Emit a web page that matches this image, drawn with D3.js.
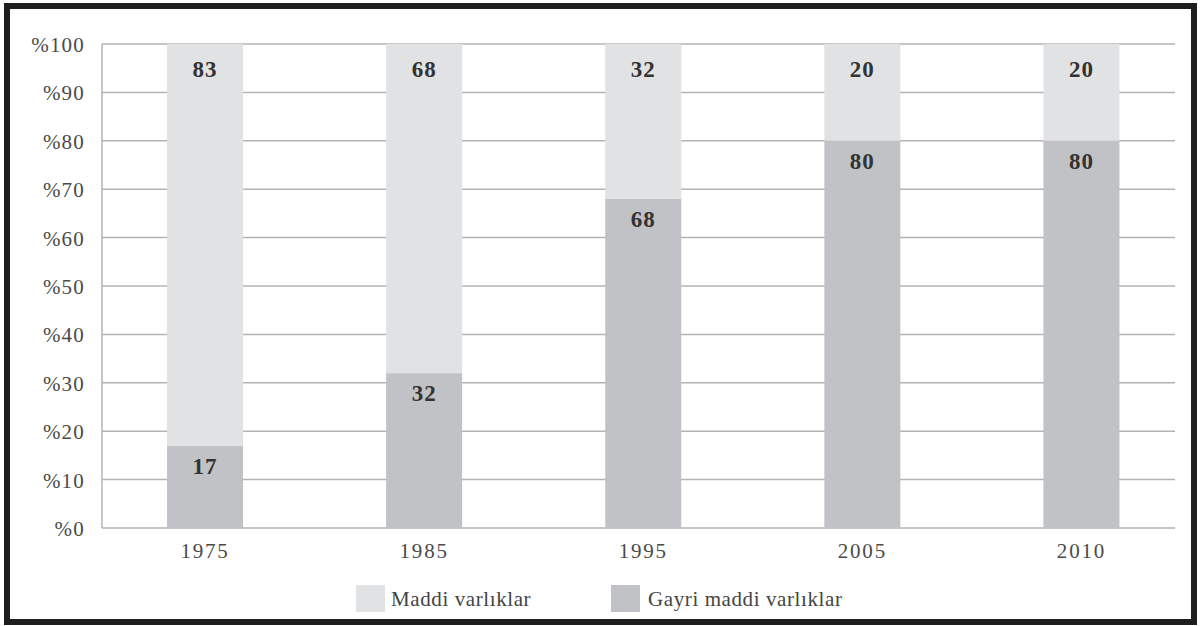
<!DOCTYPE html>
<html><head><meta charset="utf-8">
<script src="https://cdn.jsdelivr.net/npm/d3@7"></script>
<style>
html,body{margin:0;padding:0;background:#fff;}
svg{display:block;}
text{font-family:"Liberation Serif","Times New Roman",serif;}
</style></head>
<body>
<svg id="c" width="1201" height="626"></svg>
<script>
const years = ["1975","1985","1995","2005","2010"];
const gayriMaddi = [17,32,68,80,80];
const maddi = [83,68,32,20,20];
const yTicks = [0,10,20,30,40,50,60,70,80,90,100];
const seriesNames = ["Maddi varlıklar","Gayri maddi varlıklar"];
const colors = {maddi:"#e1e2e4", gayri:"#c1c2c5"};

const svg = d3.select("#c");
// frame
svg.append("rect").attr("x",7).attr("y",6).attr("width",1187).attr("height",616)
  .attr("fill","none").attr("stroke","#1e1e1e").attr("stroke-width",6);

const plotL = 102, plotR = 1175, plotT = 44, plotB = 528;
const y = d3.scaleLinear().domain([0,100]).range([plotB, plotT]);
const x = d3.scaleBand().domain(years).range([95.5,1191]).paddingInner(0.653).paddingOuter(0.3265);

// gridlines
svg.append("g").selectAll("line").data(yTicks).join("line")
  .attr("x1",plotL).attr("x2",plotR)
  .attr("y1",d=>y(d)).attr("y2",d=>y(d))
  .attr("stroke","#b3b3b3").attr("stroke-width",1.5);
svg.append("line").attr("x1",plotL).attr("x2",plotL).attr("y1",plotT).attr("y2",plotB)
  .attr("stroke","#b3b3b3").attr("stroke-width",1.5);

// y axis
const yAxis = d3.axisLeft(y).tickValues(yTicks).tickFormat(d=>"%"+d).tickSize(0).tickPadding(0);
const gy = svg.append("g").attr("transform",`translate(${plotL-17},0)`).call(yAxis);
gy.select(".domain").remove();
gy.selectAll("text").attr("font-size",21).attr("fill","#4a4a4a").attr("letter-spacing",1.2)
  .attr("dy","0.36em");

// x axis
const xAxis = d3.axisBottom(x).tickSize(0).tickPadding(0);
const gx = svg.append("g").attr("transform",`translate(0,${plotB+15})`).call(xAxis);
gx.select(".domain").remove();
gx.selectAll("text").attr("font-size",21).attr("fill","#4a4a4a").attr("letter-spacing",1.8);

// bars
const rows = years.map((yr,i)=>({year:yr, g:gayriMaddi[i], m:maddi[i]}));
const bars = svg.append("g");
bars.selectAll(".bg").data(rows).join("rect")
  .attr("x",d=>x(d.year)).attr("width",x.bandwidth())
  .attr("y",d=>y(d.g)).attr("height",d=>y(0)-y(d.g)).attr("fill",colors.gayri);
bars.selectAll(".bm").data(rows).join("rect")
  .attr("x",d=>x(d.year)).attr("width",x.bandwidth())
  .attr("y",d=>y(d.g+d.m)).attr("height",d=>y(d.g)-y(d.g+d.m)).attr("fill",colors.maddi);

// labels
const lab = svg.append("g").attr("font-size",23).attr("font-weight","bold").attr("fill","#333")
  .attr("text-anchor","middle").attr("letter-spacing",1);
lab.selectAll(".lm").data(rows).join("text")
  .attr("x",d=>x(d.year)+x.bandwidth()/2).attr("y",d=>y(d.g+d.m)+33)
  .text(d=>d.m);
lab.selectAll(".lg").data(rows).join("text")
  .attr("x",d=>x(d.year)+x.bandwidth()/2).attr("y",d=>y(d.g)+28)
  .text(d=>d.g);

// legend
const leg = svg.append("g");
const legItems = [{name:seriesNames[0], c:colors.maddi, x:356, tx:391},{name:seriesNames[1], c:colors.gayri, x:611, tx:648}];
legItems.forEach(it=>{
  leg.append("rect").attr("x",it.x).attr("y",585).attr("width",29).attr("height",27).attr("fill",it.c);
  leg.append("text").attr("x",it.tx).attr("y",606).attr("font-size",21).attr("fill","#444")
    .attr("letter-spacing",0.6).text(it.name);
});
</script>
</body></html>
